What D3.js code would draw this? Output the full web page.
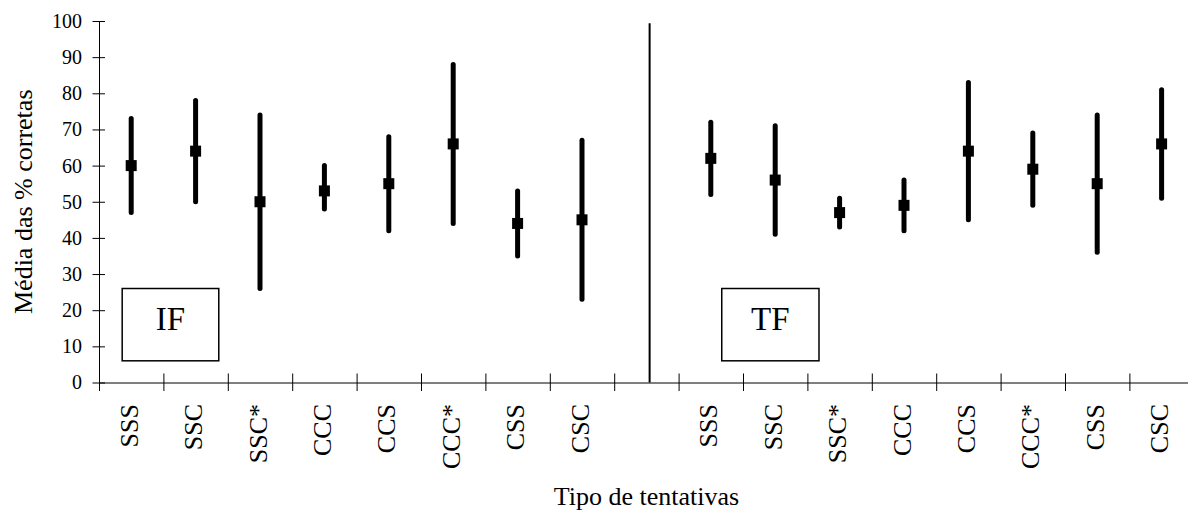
<!DOCTYPE html>
<html>
<head>
<meta charset="utf-8">
<script src="https://cdnjs.cloudflare.com/ajax/libs/d3/7.8.5/d3.min.js"></script>
<style>
  body { margin: 0; background: #fff; }
  svg { display: block; }
  svg text { font-family: "Liberation Serif", "Times New Roman", Times, serif; }
</style>
</head>
<body>
<div id="chart"></div>
<script>
// trial types, same order in both panels
var categories = ["SSS", "SSC", "SSC*", "CCC", "CCS", "CCC*", "CSS", "CSC"];
var panels = ["IF", "TF"];

// mean % correct and the range drawn as a bar
var ifMean = [60, 64, 50, 53, 55, 66, 44, 45];
var ifHigh = [73, 78, 74, 60, 68, 88, 53, 67];
var ifLow  = [47, 50, 26, 48, 42, 44, 35, 23];
var tfMean = [62, 56, 47, 49, 64, 59, 55, 66];
var tfHigh = [72, 71, 51, 56, 83, 69, 74, 81];
var tfLow  = [52, 41, 43, 42, 45, 49, 36, 51];

var yTicks = [0, 10, 20, 30, 40, 50, 60, 70, 80, 90, 100];

var width = 1188, height = 510;
var plotLeft = 99, plotTop = 21, plotBottom = 382.5;
var slotW = 64.4;
var nSlots = 17;  // 8 + empty gap + 8
var serif = '"Liberation Serif", "Times New Roman", Times, serif';

var svg = d3.select("#chart").append("svg")
  .attr("width", width)
  .attr("height", height)
  .attr("font-family", serif);

var x = d3.scaleLinear().domain([0, nSlots]).range([plotLeft, plotLeft + nSlots * slotW]);
var y = d3.scaleLinear().domain([0, 100]).range([plotBottom, plotTop]);

// flatten into rows, right panel shifted past the gap slot
var rows = [];
[[ifMean, ifHigh, ifLow], [tfMean, tfHigh, tfLow]].forEach(function(s, p) {
  categories.forEach(function(c, i) {
    rows.push({panel: panels[p], cat: c, slot: p * 9 + i, mean: s[0][i], hi: s[1][i], lo: s[2][i]});
  });
});

/* y axis */
var yAxis = svg.append("g")
  .attr("transform", "translate(" + plotLeft + ",0)")
  .call(d3.axisLeft(y).tickValues(yTicks).tickSize(6.5).tickSizeOuter(0).tickPadding(10.5))
  .attr("font-family", serif)
  .attr("font-size", 20);
yAxis.selectAll(".tick line").attr("x1", 6).attr("stroke", "#000");
yAxis.selectAll(".tick text").attr("fill", "#000");
yAxis.select(".domain").attr("stroke", "#000");

/* x axis (ticks only, labels drawn below) */
var xAxis = svg.append("g")
  .attr("transform", "translate(0," + plotBottom + ")")
  .call(d3.axisBottom(x).tickValues(d3.range(0, nSlots + 1)).tickFormat("").tickSize(8.5).tickSizeOuter(0));
xAxis.selectAll(".tick line").attr("y1", -9).attr("stroke", "#000");
xAxis.select(".domain").attr("stroke", "#000");

/* category labels */
svg.selectAll("text.cat")
  .data(rows)
  .enter()
  .append("text")
  .attr("class", "cat")
  .attr("transform", function(d) { return "translate(" + x(d.slot + 0.5) + ",404) rotate(-90)"; })
  .attr("dy", "0.25em")
  .attr("text-anchor", "end")
  .attr("font-size", 26)
  .text(function(d) { return d.cat; });

/* divider between the panels */
svg.append("line")
  .attr("x1", x(8.55)).attr("x2", x(8.55))
  .attr("y1", y(99.4)).attr("y2", y(0))
  .attr("stroke", "#000")
  .attr("stroke-width", 2);

/* range bars */
svg.selectAll("line.bar")
  .data(rows)
  .enter()
  .append("line")
  .attr("class", "bar")
  .attr("x1", function(d) { return x(d.slot + 0.5); })
  .attr("x2", function(d) { return x(d.slot + 0.5); })
  .attr("y1", function(d) { return y(d.hi); })
  .attr("y2", function(d) { return y(d.lo); })
  .attr("stroke", "#000")
  .attr("stroke-width", 5)
  .attr("stroke-linecap", "round");

/* mean markers */
var ms = 11;
svg.selectAll("rect.mean")
  .data(rows)
  .enter()
  .append("rect")
  .attr("class", "mean")
  .attr("x", function(d) { return x(d.slot + 0.5) - ms / 2; })
  .attr("y", function(d) { return y(d.mean) - ms / 2; })
  .attr("width", ms)
  .attr("height", ms)
  .attr("fill", "#000");

/* panel name boxes */
var boxes = [{name: "IF", x0: 0.36, x1: 1.86}, {name: "TF", x0: 9.67, x1: 11.18}];
var box = svg.selectAll("g.box")
  .data(boxes)
  .enter()
  .append("g")
  .attr("class", "box");
box.append("rect")
  .attr("x", function(d) { return x(d.x0); })
  .attr("y", y(26))
  .attr("width", function(d) { return x(d.x1) - x(d.x0); })
  .attr("height", y(6) - y(26))
  .attr("fill", "#fff")
  .attr("stroke", "#000")
  .attr("stroke-width", 1.5);
box.append("text")
  .attr("x", function(d) { return (x(d.x0) + x(d.x1)) / 2; })
  .attr("y", (y(26) + y(6)) / 2 + 5)
  .attr("text-anchor", "middle")
  .attr("font-size", 33)
  .text(function(d) { return d.name; });

/* axis titles */
svg.append("text")
  .attr("x", (x(0) + x(nSlots)) / 2)
  .attr("y", 505)
  .attr("text-anchor", "middle")
  .attr("font-size", 26)
  .text("Tipo de tentativas");

svg.append("text")
  .attr("transform", "translate(32," + (plotTop + plotBottom) / 2 + ") rotate(-90)")
  .attr("text-anchor", "middle")
  .attr("font-size", 26)
  .text("Média das % corretas");
</script>
</body>
</html>
